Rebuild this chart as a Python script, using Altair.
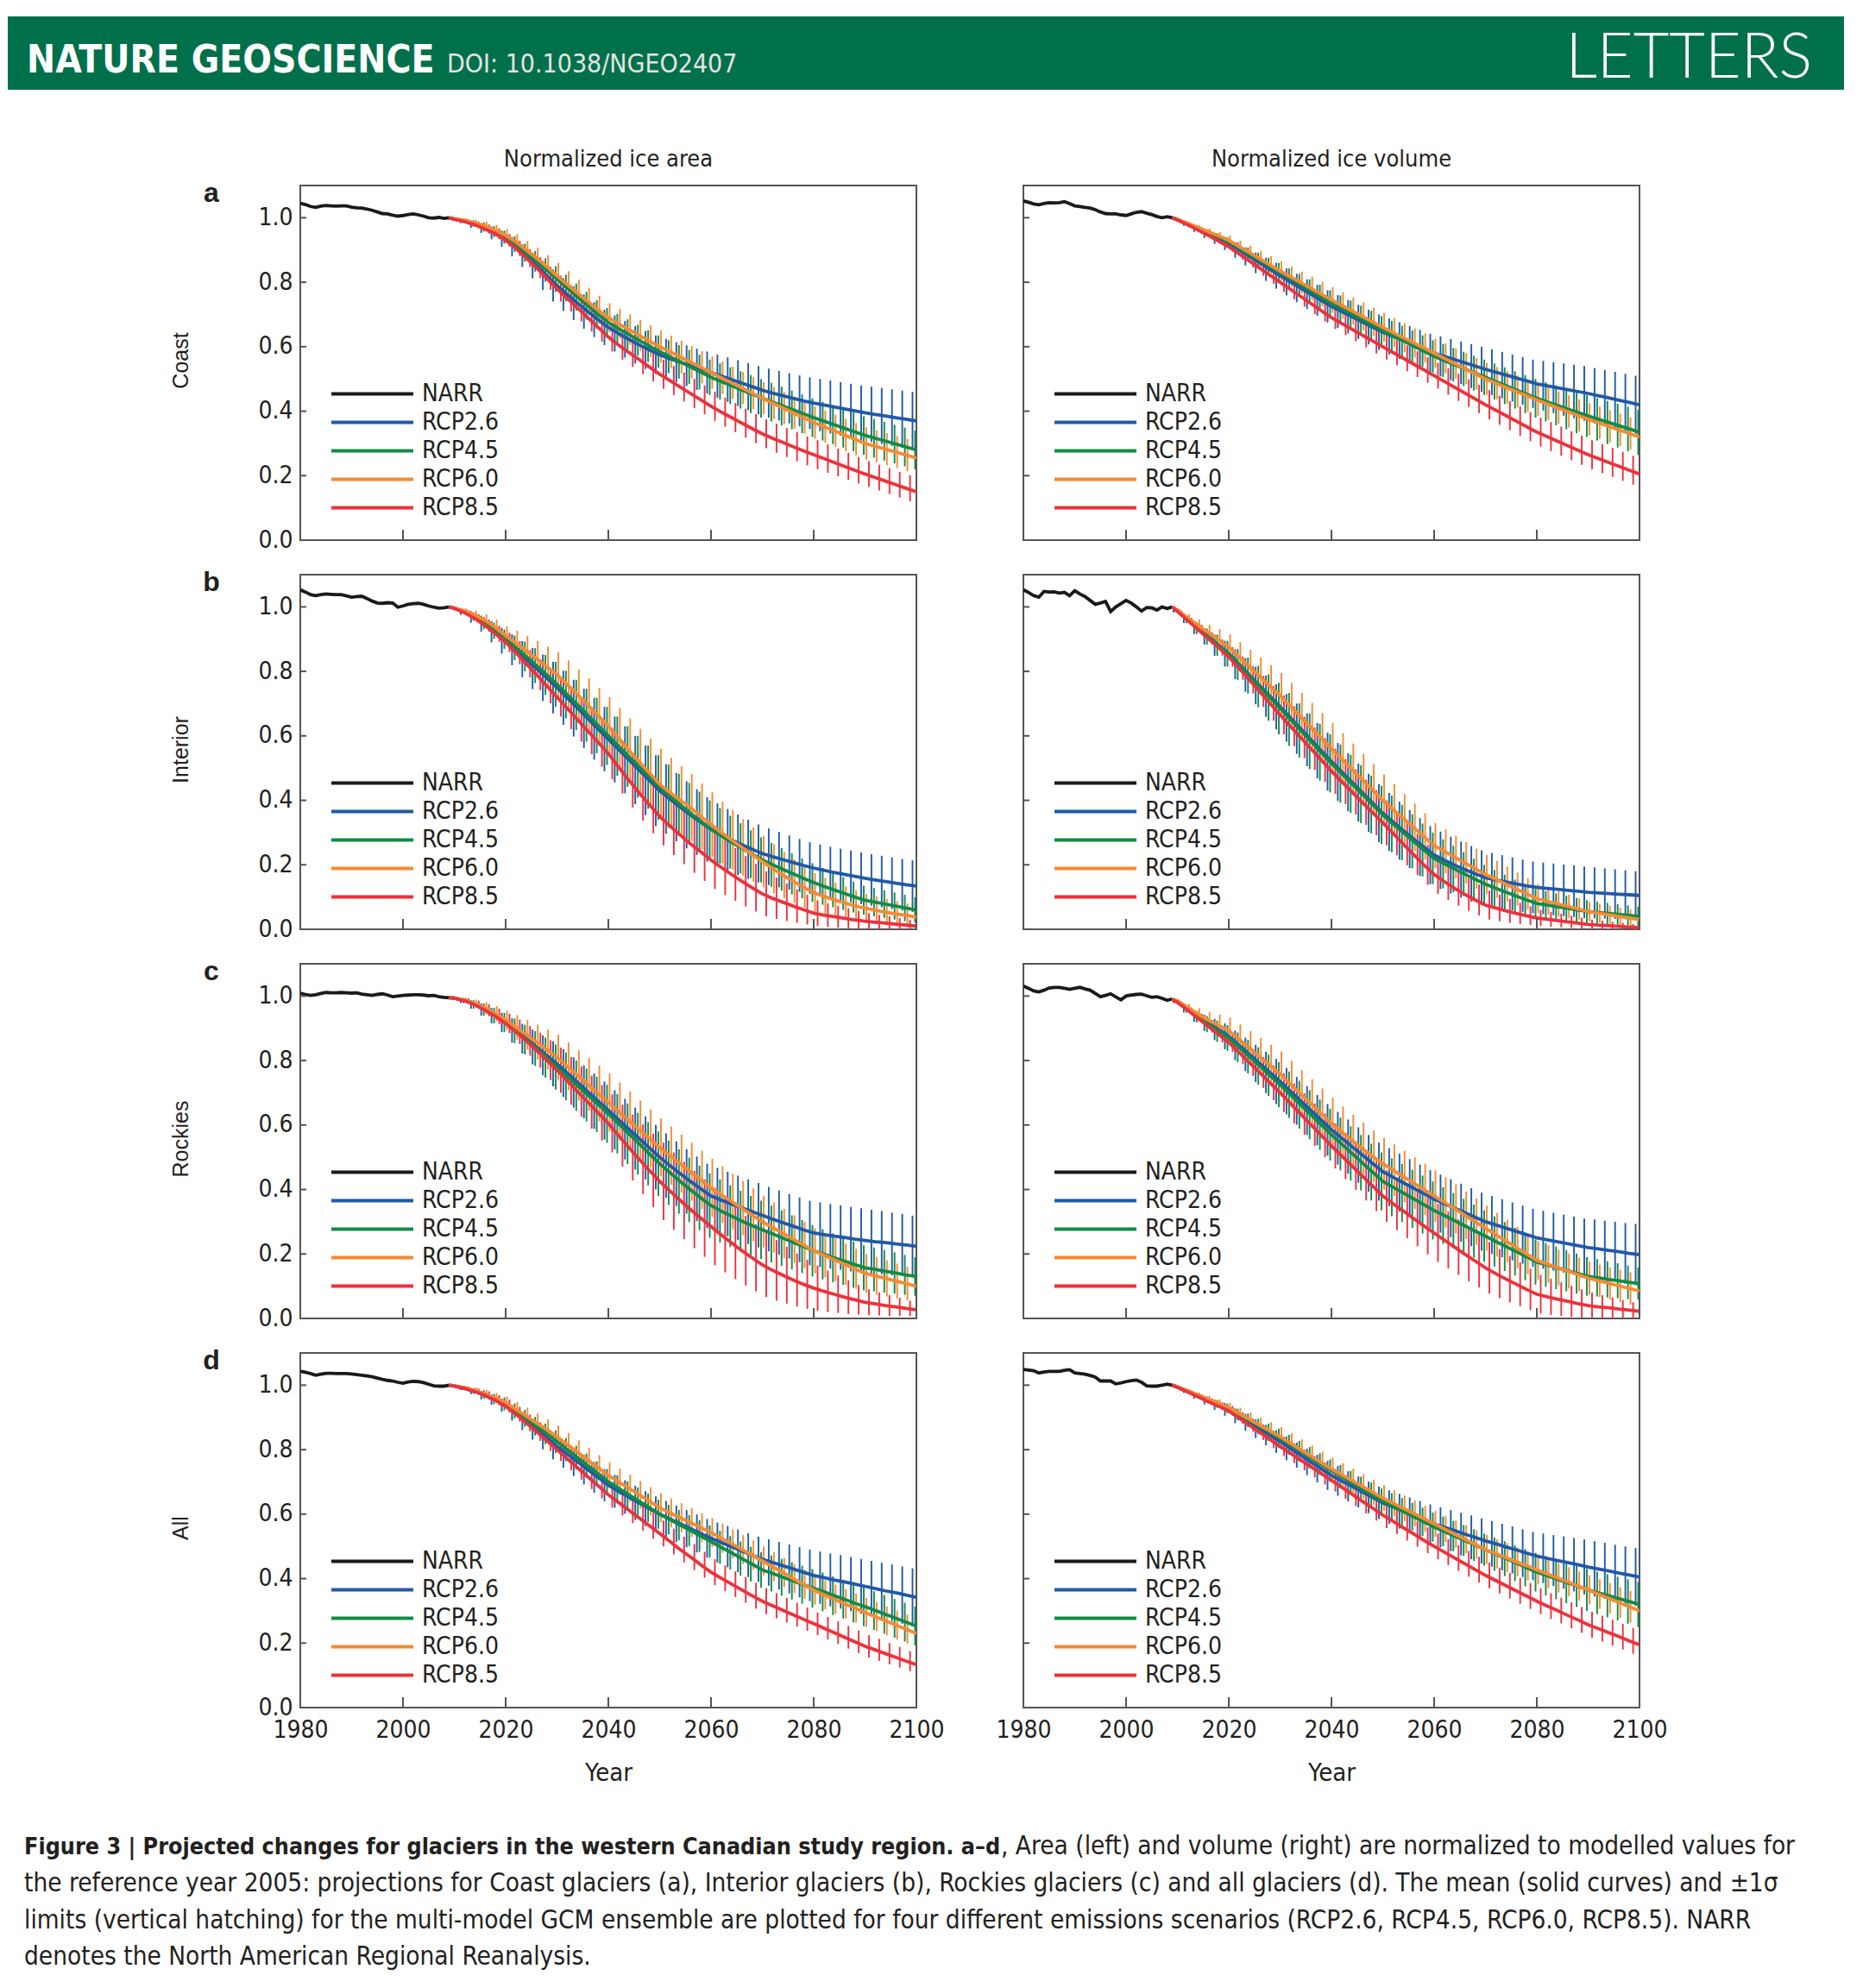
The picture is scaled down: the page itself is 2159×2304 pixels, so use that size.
import altair as alt
import pandas as pd

# ---------------- texts ----------------
HEADER_LEFT = "NATURE GEOSCIENCE"
HEADER_DOI = "DOI: 10.1038/NGEO2407"
HEADER_RIGHT = "LETTERS"
COL_TITLES = ["Normalized ice area", "Normalized ice volume"]
ROW_TITLES = ["Coast", "Interior", "Rockies", "All"]
ROW_LETTERS = ["a", "b", "c", "d"]
X_TITLE = "Year"
CAPTION_1B = "Figure 3 | Projected changes for glaciers in the western Canadian study region. a\u2013d"
CAPTION_1R = ", Area (left) and volume (right) are normalized to modelled values for"
CAPTION_2 = ("the reference year 2005: projections for Coast glaciers (a), Interior glaciers (b), "
             "Rockies glaciers (c) and all glaciers (d). The mean (solid curves) and \u00b11\u03c3")
CAPTION_3 = ("limits (vertical hatching) for the multi-model GCM ensemble are plotted for four "
             "different emissions scenarios (RCP2.6, RCP4.5, RCP6.0, RCP8.5). NARR")
CAPTION_4 = "denotes the North American Regional Reanalysis."

SERIES = ["NARR", "RCP2.6", "RCP4.5", "RCP6.0", "RCP8.5"]
COLORS = ["#1a1a1a", "#2159a8", "#118c46", "#f68a33", "#ec323c"]
X_TICKS = [1980, 2000, 2020, 2040, 2060, 2080, 2100]
Y_TICKS = [0.0, 0.2, 0.4, 0.6, 0.8, 1.0]
NARR_YEARS = list(range(1980, 2010))
PROJ_YEARS = [2009] + list(range(2010, 2101, 2))

# ---------------- data (values x 1000) ----------------
# a  Coast, area
A_AREA_NARR = [1045,1041,1035,1032,1036,1038,1037,1036,1037,1037,1033,1031,1030,1027,1023,1018,1013,1012,1008,1005,1007,1010,1012,1009,1005,1000,999,1001,998,1000]
A_AREA_26 = [1000,996,990,980,968,953,935,910,882,852,821,790,762,735,709,684,660,641,623,606,590,575,563,552,541,530,520,509,498,487,476,465,456,448,440,432,425,419,413,407,401,395,390,385,380,375,370]
A_AREA_45 = [1000,996,991,982,971,957,940,918,892,865,838,810,782,754,727,700,675,656,638,620,602,585,569,553,537,521,505,492,479,466,453,440,428,416,404,392,380,369,358,347,336,325,316,307,298,289,280]
A_AREA_60 = [1000,997,992,984,974,961,945,925,900,875,848,820,793,766,740,714,690,671,653,635,617,600,584,568,552,536,520,504,488,472,456,440,425,410,395,380,365,352,339,326,313,300,291,282,273,264,255]
A_AREA_85 = [1000,995,988,978,965,950,930,905,875,845,812,780,750,720,690,660,630,605,582,560,537,515,495,475,455,435,415,397,380,363,346,330,316,303,290,277,265,253,241,229,217,205,194,183,172,161,150]
A_AREA_26_SD = [0,3,7,11,15,20,25,30,35,40,45,50,51,52,53,54,55,56,57,58,59,60,61,62,63,64,65,67,69,71,73,75,76,77,78,79,80,81,82,83,84,85,86,87,88,89,90]
A_AREA_45_SD = [0,2,6,10,14,17,20,24,28,32,36,40,41,42,43,44,45,46,47,48,49,50,51,52,53,54,55,56,57,58,59,60,60,60,60,60,60,60,60,60,60,60,60,60,60,60,60]
A_AREA_60_SD = [0,2,6,10,14,17,20,24,28,32,36,40,41,42,43,44,45,46,47,48,49,50,50,50,50,50,50,50,50,50,50,50,50,50,50,50,50,50,50,50,50,50,50,50,50,50,50]
A_AREA_85_SD = [0,2,6,10,14,17,20,24,28,32,36,40,41,42,43,44,45,45,45,45,45,45,45,45,45,45,45,45,45,45,45,45,45,45,45,45,45,44,43,42,41,40,40,40,40,40,40]

# a  Coast, volume
A_VOL_NARR = [1052,1048,1043,1040,1044,1047,1046,1047,1050,1044,1037,1035,1032,1030,1025,1018,1013,1012,1012,1009,1007,1012,1017,1019,1014,1010,1004,1000,1003,1000]
A_VOL_26 = [1000,994,980,965,950,935,920,900,880,860,840,820,801,782,763,744,725,709,693,677,661,645,632,619,606,593,580,570,560,550,540,530,521,512,503,494,485,479,473,467,461,455,448,441,434,427,420]
A_VOL_45 = [1000,995,982,968,954,940,925,906,887,868,849,830,811,792,773,754,735,718,701,684,667,650,634,618,602,586,570,557,544,531,518,505,492,479,466,453,440,429,418,407,396,385,375,365,355,345,335]
A_VOL_60 = [1000,995,983,970,957,944,930,911,892,873,854,835,817,799,781,763,745,728,711,694,677,660,644,628,612,596,580,564,548,532,516,500,487,474,461,448,435,423,411,399,387,375,364,353,342,331,320]
A_VOL_85 = [1000,993,978,962,945,928,910,888,866,844,822,800,778,756,734,712,690,672,654,636,618,600,582,564,546,528,510,492,474,456,438,420,403,386,369,352,335,321,307,293,279,265,253,241,229,217,205]
A_VOL_26_SD = [0,2,5,9,13,16,20,24,28,32,36,40,42,44,46,48,50,51,52,53,54,55,56,57,58,59,60,62,64,66,68,70,71,72,73,74,75,77,79,81,83,85,86,87,88,89,90]
A_VOL_45_SD = [0,2,4,7,10,12,15,18,21,24,27,30,32,34,36,38,40,41,42,43,44,45,46,47,48,49,50,51,52,53,54,55,56,57,58,59,60,61,62,63,64,65,66,67,68,69,70]
A_VOL_60_SD = [0,2,4,7,10,12,15,18,21,24,27,30,32,34,36,38,40,41,42,43,44,45,45,45,45,45,45,46,47,48,49,50,50,50,50,50,50,50,50,50,50,50,50,50,50,50,50]
A_VOL_85_SD = [0,2,4,7,10,12,15,18,21,24,27,30,31,32,33,34,35,36,37,38,39,40,40,40,40,40,40,41,42,43,44,45,45,45,45,45,45,45,45,45,45,45,45,45,45,45,45]

# b  Interior, area
B_AREA_NARR = [1053,1046,1038,1035,1038,1040,1039,1038,1038,1034,1030,1032,1033,1026,1018,1012,1011,1013,1012,999,1003,1008,1010,1011,1008,1003,999,996,997,1000]
B_AREA_26 = [1000,996,985,969,948,923,895,867,838,809,780,750,718,686,654,622,590,558,526,494,462,430,404,379,355,332,310,293,277,262,248,235,225,216,207,198,190,183,176,170,164,158,153,148,143,138,134]
B_AREA_45 = [1000,996,986,970,950,926,900,873,846,818,789,760,728,696,664,632,600,568,536,504,472,440,413,386,360,335,310,290,270,251,233,215,200,186,172,158,145,133,122,111,100,90,84,78,72,66,60]
B_AREA_60 = [1000,997,988,975,958,936,910,888,864,840,815,790,760,728,696,663,630,593,556,520,485,450,424,400,378,350,325,300,277,254,232,210,188,168,149,131,114,102,91,82,73,65,59,53,48,43,38]
B_AREA_85 = [1000,995,982,964,942,917,890,858,824,790,755,720,685,650,615,580,545,503,462,423,386,350,320,292,265,240,215,192,170,149,129,110,96,84,72,61,50,44,39,34,29,25,22,19,16,13,10]
B_AREA_26_SD = [0,3,10,18,25,33,40,48,56,64,72,80,84,88,92,96,100,102,104,106,108,110,108,106,104,102,100,98,96,94,92,90,88,86,84,82,80,80,80,80,80,80,80,80,80,80,80]
B_AREA_45_SD = [0,2,7,13,19,25,30,38,46,54,62,70,74,78,82,86,90,92,94,96,98,100,98,96,94,92,90,86,82,78,74,70,68,66,64,62,60,57,54,51,48,45,44,43,42,41,40]
B_AREA_60_SD = [0,2,7,13,19,25,30,38,46,54,62,70,74,78,82,86,90,94,98,102,106,110,108,106,104,102,100,96,92,88,84,80,76,72,68,64,60,57,54,51,48,45,43,41,39,37,35]
B_AREA_85_SD = [0,2,7,13,19,25,30,36,42,48,54,60,64,68,72,76,80,82,84,86,88,90,90,90,90,90,90,86,82,78,74,70,64,58,52,46,40,37,34,31,28,25,23,21,19,17,15]

# b  Interior, volume
B_VOL_NARR = [1053,1045,1035,1030,1048,1046,1047,1043,1045,1035,1050,1040,1032,1020,1008,1012,1017,986,1000,1010,1020,1012,1000,987,998,997,990,1000,995,1000]
B_VOL_26 = [1000,987,961,934,908,881,855,822,789,756,723,690,656,622,588,554,520,488,456,424,392,360,333,306,280,255,230,214,199,185,172,160,153,147,141,135,130,127,124,121,118,115,113,111,109,107,105]
B_VOL_45 = [1000,987,961,934,908,881,855,821,787,753,719,685,651,617,583,549,515,483,451,419,387,355,327,300,273,246,220,203,187,171,155,140,127,115,103,91,80,75,70,65,60,55,52,49,46,43,40]
B_VOL_60 = [1000,990,966,943,920,898,875,845,815,785,755,725,692,659,626,593,560,528,496,464,432,400,372,344,316,288,260,242,224,206,188,170,155,140,125,110,95,87,79,71,63,55,50,45,40,35,30]
B_VOL_85 = [1000,986,958,930,902,874,845,810,774,738,701,665,630,595,560,525,490,458,426,394,362,330,297,264,232,200,170,148,127,108,91,75,66,57,49,42,35,31,27,23,19,15,13,11,9,7,5]
B_VOL_26_SD = [0,4,11,18,25,33,40,46,52,58,64,70,74,78,82,86,90,90,90,90,90,90,90,90,90,90,90,89,88,87,86,85,84,83,82,81,80,80,80,80,80,80,79,78,77,76,75]
B_VOL_45_SD = [0,4,11,18,25,33,40,48,56,64,72,80,82,84,86,88,90,90,90,90,90,90,88,86,84,82,80,76,72,68,64,60,57,54,51,48,45,43,41,39,37,35,34,33,32,31,30]
B_VOL_60_SD = [0,4,11,18,25,33,40,46,52,58,64,70,72,74,76,78,80,80,80,80,80,80,78,76,74,72,70,68,66,64,62,60,57,54,51,48,45,42,39,36,33,30,29,28,27,26,25]
B_VOL_85_SD = [0,3,8,14,19,25,30,36,42,48,54,60,62,64,66,68,70,70,70,70,70,70,68,66,64,62,60,57,54,51,48,45,41,37,33,29,25,23,21,19,17,15,14,12,11,9,8]

# c  Rockies, area
C_AREA_NARR = [1009,1005,1002,1004,1008,1011,1010,1010,1011,1010,1009,1010,1006,1004,1002,1005,1007,1003,998,1000,1002,1003,1004,1004,1003,1001,1002,998,996,995]
C_AREA_26 = [995,994,986,974,958,939,918,893,868,842,816,790,761,732,703,674,645,616,587,558,529,500,474,449,425,402,380,367,355,343,331,320,308,297,286,275,265,260,255,251,246,242,238,235,231,228,224]
C_AREA_45 = [995,994,986,974,958,939,918,892,865,837,809,780,751,722,693,664,635,604,573,542,511,480,452,425,399,374,350,333,317,302,288,275,262,249,236,223,210,199,188,178,167,157,152,146,141,135,130]
C_AREA_60 = [995,994,987,976,962,945,925,903,880,857,834,810,782,754,726,698,670,642,614,586,558,530,505,480,455,430,405,384,363,342,321,300,282,264,246,228,210,196,182,168,154,140,132,124,116,108,100]
C_AREA_85 = [995,993,985,973,956,937,915,889,861,832,801,770,737,704,671,638,605,567,530,494,459,425,395,366,338,311,285,259,234,210,188,166,149,134,119,106,94,84,75,66,58,50,45,40,36,31,27]
C_AREA_26_SD = [0,2,8,13,19,24,30,38,46,54,62,70,74,78,82,86,90,92,94,96,98,100,100,100,100,100,100,100,100,100,100,100,100,100,100,100,100,100,100,100,100,100,99,98,97,96,95]
C_AREA_45_SD = [0,2,8,13,19,24,30,38,46,54,62,70,74,78,82,86,90,92,94,96,98,100,100,100,100,100,100,98,96,94,92,90,88,86,84,82,80,78,76,74,72,70,68,66,64,62,60]
C_AREA_60_SD = [0,2,8,13,19,24,30,38,46,54,62,70,74,78,82,86,90,90,90,90,90,90,90,90,90,90,90,88,86,84,82,80,78,76,74,72,70,68,66,64,62,60,58,56,54,52,50]
C_AREA_85_SD = [0,2,8,13,19,24,30,38,46,54,62,70,74,78,82,86,90,96,102,108,114,120,120,120,120,120,120,116,112,108,104,100,94,88,82,76,70,64,58,52,46,40,36,32,28,24,20]

# c  Rockies, volume
C_VOL_NARR = [1031,1024,1016,1013,1018,1025,1027,1027,1024,1021,1024,1027,1022,1018,1008,998,1002,1007,997,988,1000,1003,1005,1006,1001,996,998,993,987,991]
C_VOL_26 = [990,982,960,938,917,896,875,847,819,791,763,735,705,675,645,615,585,559,533,507,481,455,438,421,404,387,370,356,342,328,314,300,290,280,270,260,250,244,238,232,226,220,216,211,207,202,198]
C_VOL_45 = [990,982,959,936,913,891,870,841,812,783,754,725,694,663,632,601,570,541,512,483,454,425,407,389,371,353,335,319,303,287,271,255,239,223,207,191,175,166,157,148,139,130,126,121,117,112,108]
C_VOL_60 = [990,985,965,944,925,909,893,866,839,812,785,758,727,696,666,635,605,578,552,527,503,480,460,440,420,400,380,360,340,320,300,280,260,240,220,200,180,169,158,147,136,125,117,109,101,93,85]
C_VOL_85 = [990,980,956,931,906,881,856,825,794,763,731,700,667,634,601,568,535,504,473,442,411,380,356,333,310,287,265,243,221,199,178,157,139,122,106,90,75,67,60,53,46,40,36,33,29,26,22]
C_VOL_26_SD = [0,4,11,18,25,33,40,46,52,58,64,70,72,74,76,78,80,82,84,86,88,90,90,90,90,90,90,90,90,90,90,90,90,90,90,90,90,90,90,90,90,90,91,92,93,94,95]
C_VOL_45_SD = [0,4,11,18,25,33,40,46,52,58,64,70,72,74,76,78,80,82,84,86,88,90,90,90,90,90,90,88,86,84,82,80,78,76,74,72,70,68,66,64,62,60,58,56,54,52,50]
C_VOL_60_SD = [0,4,11,18,25,33,40,46,52,58,64,70,72,74,76,78,80,80,80,80,80,80,80,80,80,80,80,78,76,74,72,70,68,66,64,62,60,58,56,54,52,50,50,50,50,50,50]
C_VOL_85_SD = [0,3,8,14,19,25,30,36,42,48,54,60,62,64,66,68,70,72,74,76,78,80,82,84,86,88,90,88,86,84,82,80,76,72,68,64,60,56,52,48,44,40,36,32,28,24,20]

# d  All, area
D_AREA_NARR = [1043,1040,1036,1031,1034,1037,1037,1036,1036,1036,1035,1033,1031,1029,1026,1022,1018,1015,1013,1009,1006,1010,1012,1011,1008,1003,998,997,997,1000]
D_AREA_26 = [1000,997,990,981,969,955,938,914,889,863,837,810,786,762,738,714,690,671,653,635,617,600,585,570,555,540,525,512,499,486,473,460,450,440,430,420,410,403,396,390,383,376,369,362,356,349,342]
D_AREA_45 = [1000,997,991,982,971,957,942,920,897,873,849,825,800,775,750,725,700,680,660,640,620,600,583,566,549,532,515,497,480,462,445,427,416,404,393,381,370,359,347,336,324,313,301,289,277,265,253]
D_AREA_60 = [1000,998,992,984,973,960,945,925,904,883,862,840,816,792,768,744,720,700,680,660,640,620,604,589,574,558,543,525,508,490,473,455,437,419,400,382,364,350,336,322,309,295,282,269,256,243,230]
D_AREA_85 = [1000,997,990,980,968,953,935,910,883,856,828,800,772,744,716,688,660,636,612,588,564,540,515,490,467,443,420,401,383,365,347,330,316,302,288,274,260,246,232,218,204,190,179,167,156,144,133]
D_AREA_26_SD = [0,2,5,9,13,16,20,24,28,32,36,40,42,44,46,48,50,51,52,53,54,55,56,57,58,59,60,62,64,66,68,70,72,74,76,78,80,81,82,83,84,85,86,87,88,89,90]
D_AREA_45_SD = [0,2,5,9,13,16,20,23,26,29,32,35,36,37,38,39,40,41,42,43,44,45,46,47,48,49,50,51,52,53,54,55,56,57,58,59,60,60,60,60,60,60,60,60,60,60,60]
D_AREA_60_SD = [0,2,5,9,13,16,20,23,26,29,32,35,36,37,38,39,40,41,42,43,44,45,45,45,45,45,45,45,45,45,45,45,45,45,45,45,45,45,45,45,45,45,45,45,45,45,45]
D_AREA_85_SD = [0,2,5,9,13,16,20,23,26,29,32,35,36,37,38,39,40,40,40,40,40,40,40,40,40,40,40,40,40,40,40,40,39,38,37,36,35,35,35,35,35,35,34,33,32,31,30]

# d  All, volume
D_VOL_NARR = [1049,1047,1045,1038,1041,1043,1043,1043,1046,1048,1038,1036,1034,1030,1025,1013,1013,1013,1004,1007,1011,1014,1016,1009,998,997,997,1000,1003,1000]
D_VOL_26 = [1000,994,981,967,953,939,925,905,885,865,845,825,804,783,762,741,720,703,686,669,652,635,622,609,596,583,570,559,549,538,528,517,508,498,489,479,470,463,456,450,443,436,430,424,417,411,405]
D_VOL_45 = [1000,995,982,969,955,942,928,909,891,872,854,835,815,795,775,755,735,716,697,678,659,640,624,608,592,576,560,546,532,518,504,490,476,462,448,434,420,409,398,387,376,365,356,347,338,329,320]
D_VOL_60 = [1000,995,983,970,957,944,930,912,894,876,858,840,820,800,780,760,740,722,704,686,668,650,634,618,602,586,570,554,538,522,506,490,477,465,452,440,427,415,402,390,377,365,352,339,326,313,300]
D_VOL_85 = [1000,993,979,964,949,935,920,898,876,854,832,810,789,768,747,726,705,683,662,640,619,597,578,558,539,519,500,482,464,446,428,410,394,378,362,346,330,315,301,286,272,257,245,232,220,207,195]
D_VOL_26_SD = [0,2,5,9,13,16,20,23,26,29,32,35,37,39,41,43,45,46,47,48,49,50,52,54,56,58,60,62,64,66,68,70,71,72,73,74,75,77,79,81,83,85,86,87,88,89,90]
D_VOL_45_SD = [0,2,4,7,10,12,15,18,21,24,27,30,31,32,33,34,35,36,37,38,39,40,41,42,43,44,45,46,47,48,49,50,52,54,56,58,60,61,62,63,64,65,66,67,68,69,70]
D_VOL_60_SD = [0,2,4,7,10,12,15,18,21,24,27,30,31,32,33,34,35,36,37,38,39,40,40,40,40,40,40,41,42,43,44,45,45,45,45,45,45,45,45,45,45,45,46,47,48,49,50]
D_VOL_85_SD = [0,2,4,7,10,12,15,18,21,24,27,30,31,32,33,34,35,36,37,38,39,40,40,40,40,40,40,40,40,40,40,40,40,40,40,40,40,40,40,40,40,40,40,40,40,40,40]

PANELS = [
    [(A_AREA_NARR, [A_AREA_26, A_AREA_45, A_AREA_60, A_AREA_85], [A_AREA_26_SD, A_AREA_45_SD, A_AREA_60_SD, A_AREA_85_SD]),
     (A_VOL_NARR, [A_VOL_26, A_VOL_45, A_VOL_60, A_VOL_85], [A_VOL_26_SD, A_VOL_45_SD, A_VOL_60_SD, A_VOL_85_SD])],
    [(B_AREA_NARR, [B_AREA_26, B_AREA_45, B_AREA_60, B_AREA_85], [B_AREA_26_SD, B_AREA_45_SD, B_AREA_60_SD, B_AREA_85_SD]),
     (B_VOL_NARR, [B_VOL_26, B_VOL_45, B_VOL_60, B_VOL_85], [B_VOL_26_SD, B_VOL_45_SD, B_VOL_60_SD, B_VOL_85_SD])],
    [(C_AREA_NARR, [C_AREA_26, C_AREA_45, C_AREA_60, C_AREA_85], [C_AREA_26_SD, C_AREA_45_SD, C_AREA_60_SD, C_AREA_85_SD]),
     (C_VOL_NARR, [C_VOL_26, C_VOL_45, C_VOL_60, C_VOL_85], [C_VOL_26_SD, C_VOL_45_SD, C_VOL_60_SD, C_VOL_85_SD])],
    [(D_AREA_NARR, [D_AREA_26, D_AREA_45, D_AREA_60, D_AREA_85], [D_AREA_26_SD, D_AREA_45_SD, D_AREA_60_SD, D_AREA_85_SD]),
     (D_VOL_NARR, [D_VOL_26, D_VOL_45, D_VOL_60, D_VOL_85], [D_VOL_26_SD, D_VOL_45_SD, D_VOL_60_SD, D_VOL_85_SD])],
]

# ---------------- styling ----------------
FONT = "DejaVu Sans Condensed, DejaVu Sans, sans-serif"
FONT2 = "Liberation Sans, Arial, sans-serif"
FONT_LIGHT = "Lato, Open Sans, DejaVu Sans Condensed, sans-serif"
INK = "#231f20"
FRAME = "#555555"
GREEN = "#00704a"
W, H = 714, 411
LEFT_X = -339      # page left edge relative to the first panel
TOP_Y = -206       # page top edge relative to the first panel
FULL_W = 2128
HATCH_SHIFT = [-4.5, -1.5, 1.5, 4.5]   # small pixel stagger so the four hatchings interleave

XS = alt.Scale(domain=[1980, 2100], nice=False, zero=False)
YS = alt.Scale(domain=[0, 1.1], nice=False, zero=False)
ONE = pd.DataFrame({"k": [0]})


def color_enc():
    return alt.Color(
        "series:N",
        scale=alt.Scale(domain=SERIES, range=COLORS),
        legend=alt.Legend(
            orient="none", legendX=34, legendY=225, title=None,
            symbolType="stroke", symbolSize=9025, symbolStrokeWidth=4,
            clipHeight=33, labelFont=FONT, labelFontSize=28, labelColor=INK,
            labelOffset=8, padding=0, rowPadding=0, offset=0,
        ),
    )


def x_axis(r):
    if r != 3:
        return None
    return alt.Axis(values=X_TICKS, format="d", ticks=False, tickSize=0, domain=False, grid=False,
                    labelFlush=False, labelFont=FONT, labelFontSize=28, labelColor=INK, labelPadding=12,
                    title=X_TITLE, titleFont=FONT, titleFontSize=29, titleFontWeight="normal",
                    titleColor=INK, titleX=W / 2, titleY=84, titleAlign="center",
                    titleBaseline="alphabetic")


def y_axis(r, c):
    if c == 1:
        return None
    return alt.Axis(values=Y_TICKS, format=".1f", ticks=False, tickSize=0, domain=False, grid=False,
                    labelFont=FONT, labelFontSize=28, labelColor=INK, labelPadding=9,
                    title=ROW_TITLES[r], titleFont=FONT2, titleFontSize=25, titleFontWeight="normal",
                    titleColor=INK, titleX=-139, titleY=H / 2 - 3, titleAlign="center",
                    titleBaseline="middle")


def text_layer(txt, x, y, **style):
    return alt.Chart(ONE).mark_text(baseline="alphabetic", **style).encode(
        text=alt.value(txt), x=alt.value(x), y=alt.value(y))


def header_layers():
    pad = alt.Chart(ONE).mark_rect(color="white").encode(
        x=alt.value(LEFT_X), x2=alt.value(LEFT_X + FULL_W), y=alt.value(TOP_Y), y2=alt.value(TOP_Y + 10))
    band = alt.Chart(ONE).mark_rect(color=GREEN).encode(
        x=alt.value(LEFT_X), x2=alt.value(LEFT_X + FULL_W), y=alt.value(TOP_Y + 10), y2=alt.value(TOP_Y + 95))
    h1 = text_layer(HEADER_LEFT, LEFT_X + 22, TOP_Y + 75, font=FONT, fontSize=44, fontWeight="bold",
                    color="white", align="left")
    h2 = text_layer(HEADER_DOI, LEFT_X + 509, TOP_Y + 75, font=FONT, fontSize=30, color="#e4e4e4",
                    align="left")
    h3 = text_layer(HEADER_RIGHT, LEFT_X + 2091, TOP_Y + 81, font=FONT_LIGHT, fontSize=72, fontWeight=300,
                    color="white", align="right")
    return [pad, band, h1, h2, h3]


def caption_layers():
    y0 = 581
    st = dict(font=FONT, color=INK, align="left")
    return [
        text_layer(CAPTION_1B, LEFT_X + 19, y0, fontWeight="bold", fontSize=26.7, **st),
        text_layer(CAPTION_1R, LEFT_X + 1151, y0, fontSize=29.5, **st),
        text_layer(CAPTION_2, LEFT_X + 19, y0 + 43, fontSize=29.5, **st),
        text_layer(CAPTION_3, LEFT_X + 19, y0 + 86, fontSize=29.5, **st),
        text_layer(CAPTION_4, LEFT_X + 19, y0 + 128, fontSize=29.5, **st),
    ]


def make_panel(r, c):
    narr, means, sds = PANELS[r][c]
    line_rows = [{"year": y, "series": "NARR", "v": v / 1000} for y, v in zip(NARR_YEARS, narr)]
    hatch_rows = []
    for s, m, sd in zip(SERIES[1:], means, sds):
        for y, mv, sv in zip(PROJ_YEARS, m, sd):
            line_rows.append({"year": y, "series": s, "v": mv / 1000})
            hatch_rows.append({"year": y, "series": s, "lo": (mv - sv) / 1000, "hi": (mv + sv) / 1000})
    line_df = pd.DataFrame(line_rows)
    hatch_df = pd.DataFrame(hatch_rows)

    xa, ya = x_axis(r), y_axis(r, c)

    hatches = []
    for s, shift in zip(SERIES[1:], HATCH_SHIFT):
        hatches.append(
            alt.Chart(hatch_df[hatch_df["series"] == s]).mark_rule(
                strokeWidth=1.9, clip=True, xOffset=shift).encode(
                x=alt.X("year:Q", scale=XS, axis=xa),
                y=alt.Y("lo:Q", scale=YS, axis=ya),
                y2="hi:Q",
                color=color_enc(),
            )
        )
    lines = alt.Chart(line_df).mark_line(strokeWidth=3.8, clip=True).encode(
        x=alt.X("year:Q", scale=XS, axis=xa),
        y=alt.Y("v:Q", scale=YS, axis=ya),
        color=color_enc(),
    )
    yt = alt.Chart(pd.DataFrame({"v": Y_TICKS})).mark_rule(color=FRAME, strokeWidth=2).encode(
        y=alt.Y("v:Q", scale=YS, axis=ya), x=alt.value(0), x2=alt.value(7))
    xt = alt.Chart(pd.DataFrame({"year": X_TICKS})).mark_rule(color=FRAME, strokeWidth=2).encode(
        x=alt.X("year:Q", scale=XS, axis=xa), y=alt.value(H), y2=alt.value(H - 12))

    layers = []
    if r == 0 and c == 0:
        layers += header_layers()
    layers += hatches + [lines, yt, xt]
    if c == 0:
        layers.append(text_layer(ROW_LETTERS[r], -103, 19, font=FONT2, fontSize=32, fontWeight="bold",
                                 color=INK, align="center"))
    if r == 0:
        layers.append(text_layer(COL_TITLES[c], W / 2, -22, font=FONT, fontSize=27, color=INK,
                                 align="center"))
    if r == 3 and c == 0:
        layers += caption_layers()
    return alt.layer(*layers).properties(
        width=W, height=H, view=alt.ViewBackground(stroke=FRAME, strokeWidth=2))


panels = [make_panel(r, c) for r in range(4) for c in range(2)]

chart = alt.concat(
    *panels, columns=2, bounds="flush", spacing=alt.RowColnumber(row=40, column=124)
).resolve_scale(
    color="independent", x="independent", y="independent"
).resolve_legend(
    color="independent"
).properties(
    padding=0, background="white"
).configure_view(stroke="transparent")

chart.save("out.html", embed_options={"renderer": "svg", "actions": False})
